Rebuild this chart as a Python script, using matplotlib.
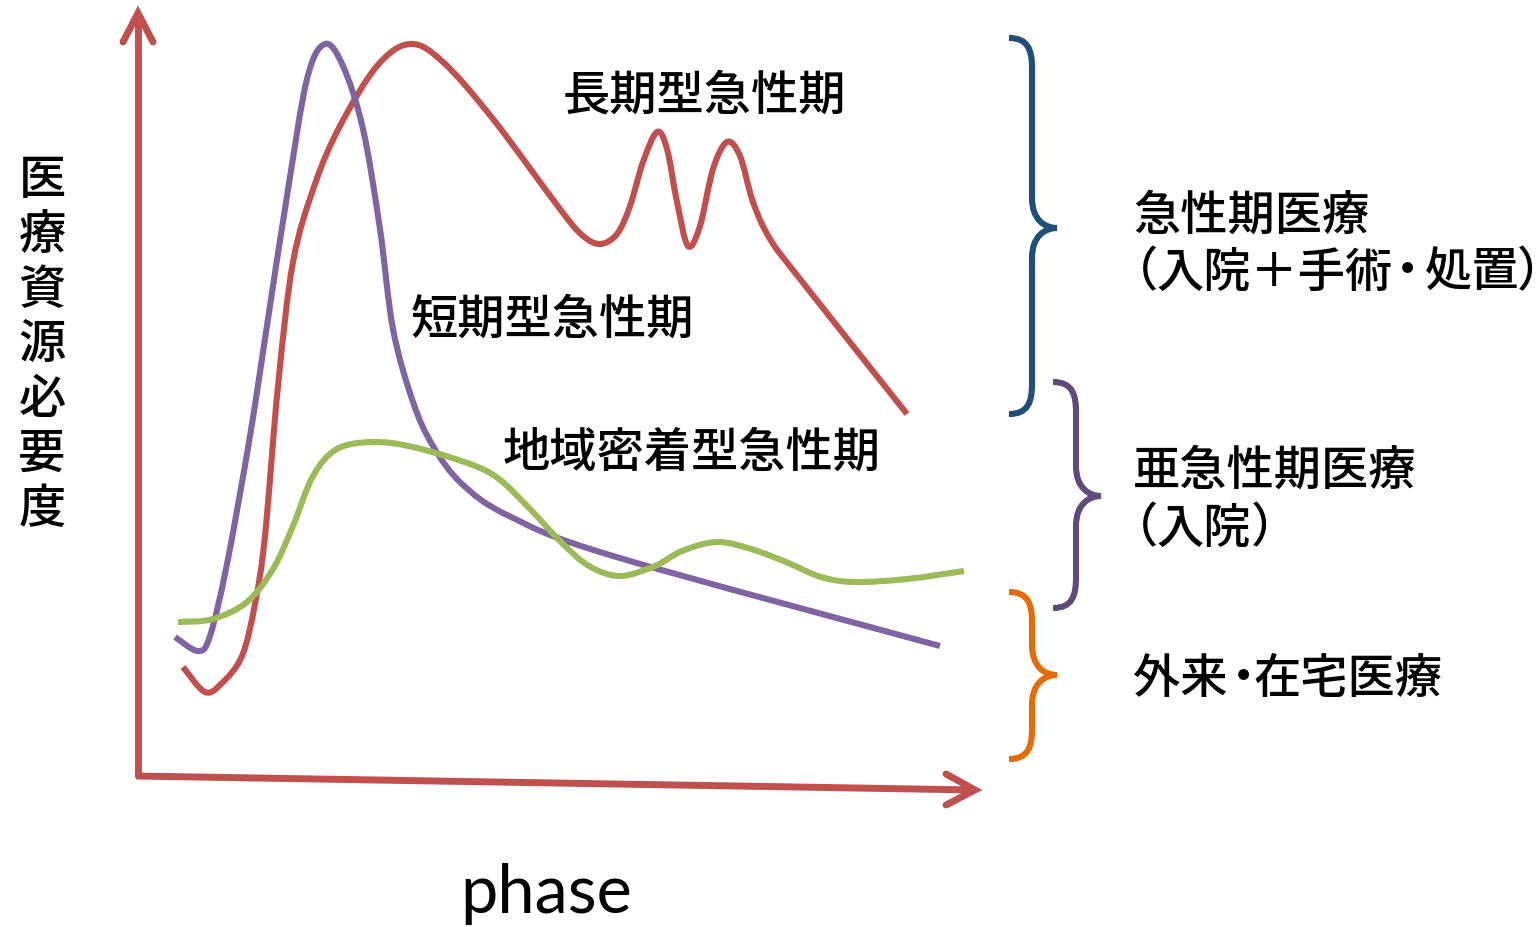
import numpy as np
import matplotlib.pyplot as plt
from matplotlib.path import Path
from matplotlib.patches import PathPatch

plt.rcParams['font.family'] = ['Noto Sans CJK JP', 'DejaVu Sans']

RED = '#C0504D'
PURPLE = '#8064A2'
GREEN = '#9BBB59'

# curve points (pixel space, y down)
long_x = [183, 205, 222, 242, 255, 265, 278, 293, 315, 340, 377, 410, 443, 493, 560, 582, 600, 617, 630, 643,
          657, 667, 677, 688, 700, 713, 727, 740, 753, 770, 800, 907]
long_y = [668, 693, 684, 657, 605, 537, 387, 263, 185, 127, 67, 45, 63, 120, 210, 236, 245, 235, 207, 163,
          133, 150, 203, 247, 227, 170, 143, 157, 203, 240, 280, 415]

short_x = [175, 198, 210, 227, 250, 268, 287, 307, 325, 343, 363, 380, 393, 413, 433, 462, 509, 613, 940]
short_y = [638, 652, 637, 565, 437, 320, 197, 80, 45, 67, 130, 230, 330, 403, 447, 485, 517, 557, 647]

local_x = [178, 213, 247, 273, 293, 313, 337, 373, 413, 470, 499, 530, 561, 589, 620, 655, 682,
           717, 751, 786, 821, 855, 907, 964]
local_y = [623, 620, 603, 570, 527, 477, 450, 443, 448, 465, 480, 510, 543, 567, 577, 567, 552,
           543, 550, 563, 578, 583, 580, 572]

curve_labels = ['長期型急性期', '短期型急性期', '地域密着型急性期']
curve_label_pos = [(563, 96), (411, 320), (503, 453)]

y_label = '医療資源必要度'
x_label = 'phase'

# braces: top y, middle y, bottom y, tip x
brace_top = [39, 383, 593]
brace_mid = [229, 497, 676]
brace_bot = [415, 609, 760]
brace_left = [1009, 1053, 1009]
brace_colors = ['#1F4E79', '#604A7B', '#E36C09']


def smooth_path(xs, ys):
    pts = np.column_stack([xs, ys]).astype(float)
    n = len(pts)
    verts = [pts[0]]
    codes = [Path.MOVETO]
    for i in range(n - 1):
        p0 = pts[i - 1] if i > 0 else pts[i]
        p1 = pts[i]
        p2 = pts[i + 1]
        p3 = pts[i + 2] if i + 2 < n else pts[i + 1]
        verts += [p1 + (p2 - p0) / 6, p2 - (p3 - p1) / 6, p2]
        codes += [Path.CURVE4] * 3
    return Path(verts, codes)


def brace_path(yt, ym, yb, xl):
    xs = xl + 23
    xp = xl + 48
    r = 30
    v = [(xl, yt),
         (xs - 4, yt), (xs, yt + 12), (xs, yt + r),
         (xs, ym - r),
         (xs, ym - 8), (xp - 12, ym), (xp, ym),
         (xp - 12, ym), (xs, ym + 8), (xs, ym + r),
         (xs, yb - r),
         (xs, yb - 12), (xs - 4, yb), (xl, yb)]
    c = [Path.MOVETO, Path.CURVE4, Path.CURVE4, Path.CURVE4, Path.LINETO,
         Path.CURVE4, Path.CURVE4, Path.CURVE4, Path.CURVE4, Path.CURVE4, Path.CURVE4,
         Path.LINETO, Path.CURVE4, Path.CURVE4, Path.CURVE4]
    return Path(v, c)


fig = plt.figure(figsize=(15.37, 9.28), dpi=100)
ax = fig.add_axes([0, 0, 1, 1])
ax.set_xlim(0, 1537)
ax.set_ylim(928, 0)
ax.axis('off')

# axes with arrow heads
ax.plot([138, 138], [778, 16], color=RED, lw=5, solid_capstyle='butt')
ax.plot([123, 138, 153], [43, 14, 43], color=RED, lw=5, solid_capstyle='round', solid_joinstyle='miter')
ax.plot([136, 975], [777, 791], color=RED, lw=5, solid_capstyle='butt')
ax.plot([946, 975, 946], [775, 791, 806], color=RED, lw=5, solid_capstyle='round', solid_joinstyle='miter')

for xs, ys, col in [(long_x, long_y, RED), (short_x, short_y, PURPLE), (local_x, local_y, GREEN)]:
    ax.add_patch(PathPatch(smooth_path(xs, ys), fill=False, edgecolor=col, lw=4.4, capstyle='butt'))

for yt, ym, yb, xl, col in zip(brace_top, brace_mid, brace_bot, brace_left, brace_colors):
    ax.add_patch(PathPatch(brace_path(yt, ym, yb, xl), fill=False, edgecolor=col, lw=4.4, capstyle='butt'))

fs = 34
fw = 'medium'
for lab, (x, y) in zip(curve_labels, curve_label_pos):
    ax.text(x, y, lab, fontsize=fs, ha='left', va='center', weight=fw)

ax.text(42, 345, '\n'.join(y_label), fontsize=fs, ha='center', va='center', linespacing=1.15, weight=fw)
ax.text(546, 913, x_label, fontsize=48, ha='center', va='baseline', family=['Lato', 'DejaVu Sans'])

# right hand labels
ax.text(1133, 216, '急性期医療', fontsize=fs, ha='left', va='center', weight=fw)
ax.text(1158, 273, '（', fontsize=fs, ha='right', va='center', weight=fw)
ax.text(1157, 273, '入院＋手術', fontsize=fs, ha='left', va='center', weight=fw)
ax.text(1407, 273, '・', fontsize=fs, ha='center', va='center', weight=fw)
ax.text(1425, 273, '処置', fontsize=fs, ha='left', va='center', weight=fw)
ax.text(1517, 273, '）', fontsize=fs, ha='left', va='center', weight=fw)

ax.text(1133, 471, '亜急性期医療', fontsize=fs, ha='left', va='center', weight=fw)
ax.text(1158, 529, '（', fontsize=fs, ha='right', va='center', weight=fw)
ax.text(1157, 529, '入院', fontsize=fs, ha='left', va='center', weight=fw)
ax.text(1251, 529, '）', fontsize=fs, ha='left', va='center', weight=fw)

ax.text(1133, 680, '外来', fontsize=fs, ha='left', va='center', weight=fw)
ax.text(1243, 680, '・', fontsize=fs, ha='center', va='center', weight=fw)
ax.text(1253, 680, '在宅医療', fontsize=fs, ha='left', va='center', weight=fw)

fig.savefig('out.png', dpi=100)
